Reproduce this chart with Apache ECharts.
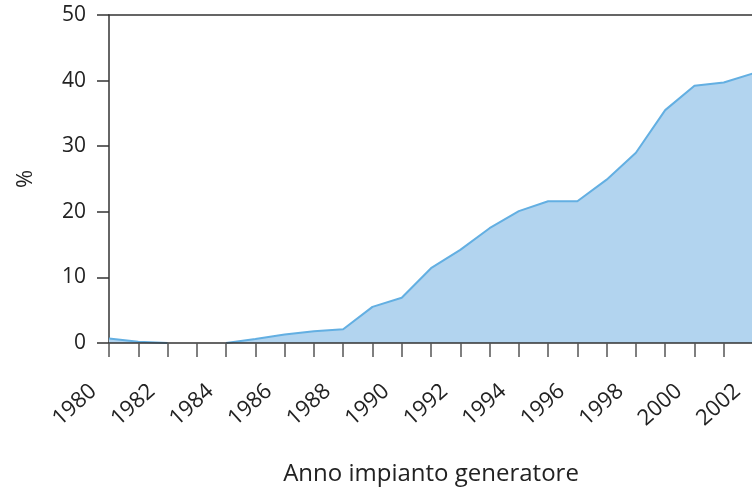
<!DOCTYPE html>
<html>
<head>
<meta charset="utf-8">
<script src="https://cdn.jsdelivr.net/npm/echarts@6/dist/echarts.min.js"></script>
<style>
html, body { margin: 0; padding: 0; background: #fff; }
#chart { width: 752px; height: 487px; }
</style>
</head>
<body>
<div id="chart"></div>
<script>
// anni del generatore
var years = ['1980', '1981', '1982', '1983', '1984', '1985', '1986', '1987', '1988', '1989', '1990',
    '1991', '1992', '1993', '1994', '1995', '1996', '1997', '1998', '1999', '2000', '2001', '2002'];
// quota %, null = nessun valore
var share = [0.7, 0.2, 0, null, 0, 0.6, 1.3, 1.8, 2.1, 5.5, 6.9,
    11.4, 14.2, 17.5, 20.1, 21.6, 21.6, 24.9, 29.0, 35.5, 39.2, 39.7, 41.1];
var yTicks = [0, 10, 20, 30, 40, 50];

var font = 'Open Sans';
var chart = echarts.init(document.getElementById('chart'));

chart.setOption({
    animation: false,
    grid: {
        left: 109,
        right: -1,
        top: 15,
        bottom: 144,
        outerBoundsMode: 'none'
    },
    xAxis: [
        {
            type: 'category',
            data: years,
            boundaryGap: false,
            z: 5,
            name: 'Anno impianto generatore',
            nameLocation: 'middle',
            nameGap: 119,
            nameTextStyle: {fontFamily: font, fontSize: 24, color: '#222'},
            axisLine: {lineStyle: {color: '#333', width: 1.5}},
            axisTick: {show: true, interval: 0, length: 14, lineStyle: {color: '#555', width: 1.5}},
            axisLabel: {
                interval: 1,
                rotate: 42,
                margin: 31,
                padding: [0, 21, 0, 0], // sposta il testo lungo la diagonale
                fontFamily: font,
                fontSize: 22,
                color: '#222'
            },
            splitLine: {show: false}
        },
        {
            //bordo superiore
            type: 'category',
            data: years,
            boundaryGap: false,
            position: 'top',
            axisLine: {lineStyle: {color: '#333', width: 1.5}},
            axisTick: {show: false},
            axisLabel: {show: false}
        }
    ],
    yAxis: {
        type: 'value',
        min: yTicks[0],
        max: yTicks[yTicks.length - 1],
        interval: 10,
        name: '%',
        nameLocation: 'middle',
        nameGap: 72,
        nameTextStyle: {fontFamily: font, fontSize: 22, color: '#222'},
        axisLine: {show: true, lineStyle: {color: '#333', width: 1.5}},
        axisTick: {show: true, length: 12, lineStyle: {color: '#333', width: 1.5}},
        axisLabel: {margin: 23, fontFamily: font, fontSize: 21, color: '#222'},
        splitLine: {show: false}
    },
    series: [
        {
            type: 'line',
            data: share,
            showSymbol: false,
            connectNulls: false,
            lineStyle: {color: '#63afe2', width: 2},
            areaStyle: {color: '#b2d4ef', opacity: 1}
        }
    ]
});
</script>
</body>
</html>
